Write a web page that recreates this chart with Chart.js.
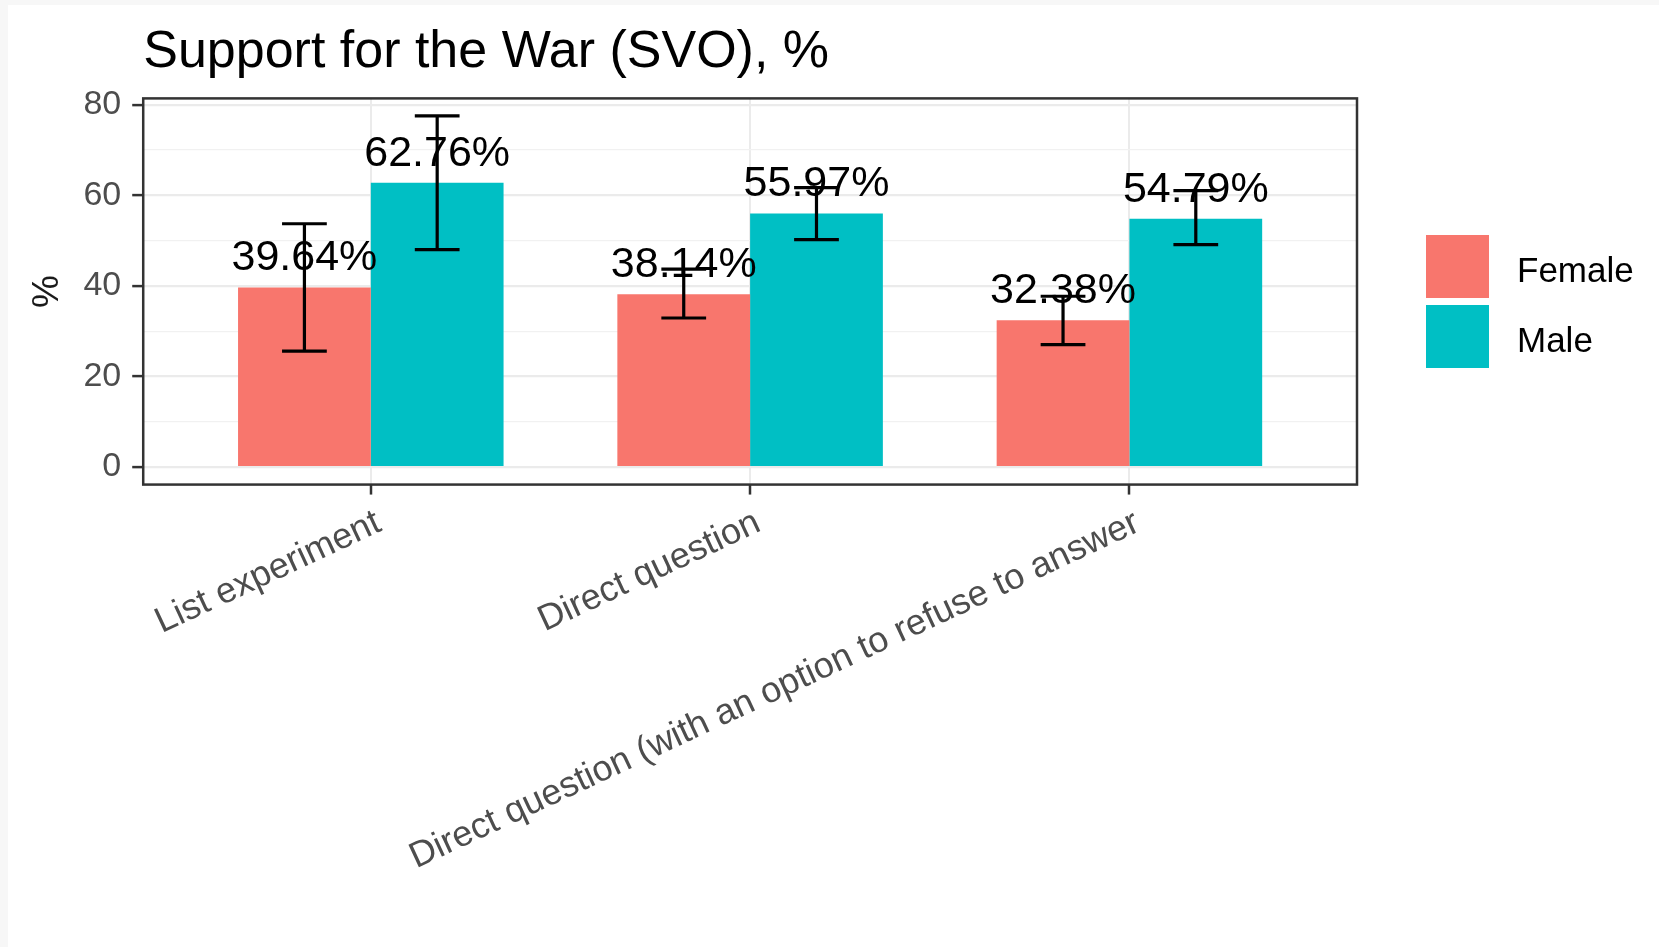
<!DOCTYPE html>
<html lang="en">
<head>
    <meta charset="UTF-8">
    <title>Support for the War (SVO), %</title>
    <script src="https://cdn.jsdelivr.net/npm/chart.js"></script>
    <style>
        body {
            margin: 0;
            background: #f7f7f7;
        }

        .chart-container {
            position: absolute;
            left: 8px;
            top: 5px;
            width: 1651px;
            height: 942px;
            background: #fff;
        }
    </style>
</head>
<body>
<div class="chart-container">
    <canvas id="svoChart"></canvas>
</div>

<script>
    // data
    const categories = ['List experiment', 'Direct question', 'Direct question (with an option to refuse to answer'];
    const seriesNames = ['Female', 'Male'];
    const female = [39.64, 38.14, 32.38];
    const male = [62.76, 55.97, 54.79];
    const femaleLow = [25.6, 32.9, 27.0];
    const femaleHigh = [53.7, 43.7, 37.7];
    const maleLow = [48.0, 50.2, 49.1];
    const maleHigh = [77.5, 61.7, 61.0];
    const yTicks = [0, 20, 40, 60, 80];
    const yMinorTicks = [10, 30, 50, 70];

    const colors = ['#F8766D', '#00BFC4'];
    const errLow = [femaleLow, maleLow];
    const errHigh = [femaleHigh, maleHigh];

    // ggplot-like 5% expansion of the y range
    const yTop = Math.max(...femaleHigh, ...maleHigh);
    const yMin = -0.05 * yTop;
    const yMax = yTop * 1.05;

    Chart.defaults.font.family = "'Liberation Sans', Arial, sans-serif";

    const extras = {
        id: 'extras',
        afterDatasetsDraw(chart) {
            const ctx = chart.ctx;
            const xs = chart.scales.x;
            const capHalf = xs.getPixelForValue(0.059) - xs.getPixelForValue(0);
            ctx.save();
            chart.data.datasets.forEach((ds, d) => {
                const meta = chart.getDatasetMeta(d);
                meta.data.forEach((bar, i) => {
                    // value label
                    ctx.fillStyle = '#000';
                    ctx.font = "43px 'Liberation Sans', Arial, sans-serif";
                    ctx.textAlign = 'center';
                    ctx.textBaseline = 'alphabetic';
                    ctx.fillText(ds.data[i].y.toFixed(2) + '%', bar.x, bar.y - 17);
                    // error bar
                    const lo = chart.scales.y.getPixelForValue(errLow[d][i]);
                    const hi = chart.scales.y.getPixelForValue(errHigh[d][i]);
                    ctx.strokeStyle = '#000';
                    ctx.lineWidth = 3.2;
                    ctx.beginPath();
                    ctx.moveTo(bar.x, lo);
                    ctx.lineTo(bar.x, hi);
                    ctx.moveTo(bar.x - capHalf, lo);
                    ctx.lineTo(bar.x + capHalf, lo);
                    ctx.moveTo(bar.x - capHalf, hi);
                    ctx.lineTo(bar.x + capHalf, hi);
                    ctx.stroke();
                });
            });
            ctx.restore();
        },
        afterDraw(chart) {
            const ctx = chart.ctx;
            const a = chart.chartArea;
            ctx.save();
            // panel border
            ctx.strokeStyle = '#333';
            ctx.lineWidth = 2.5;
            ctx.strokeRect(a.left, a.top, a.right - a.left, a.bottom - a.top);
            // legend
            const box = 63;
            let top = 230;
            chart.data.datasets.forEach(ds => {
                ctx.fillStyle = ds.backgroundColor;
                ctx.fillRect(a.right + 69, top, box, box);
                ctx.fillStyle = '#000';
                ctx.font = "35px 'Liberation Sans', Arial, sans-serif";
                ctx.textAlign = 'left';
                ctx.textBaseline = 'middle';
                ctx.fillText(ds.label, a.right + 69 + box + 28, top + box / 2 + 6);
                top += box + 7;
            });
            ctx.restore();
        }
    };

    new Chart(document.getElementById('svoChart'), {
        type: 'bar',
        data: {
            datasets: seriesNames.map((name, d) => ({
                label: name,
                backgroundColor: colors[d],
                borderWidth: 0,
                categoryPercentage: 0.7,
                barPercentage: 1.0,
                data: (d === 0 ? female : male).map((v, i) => ({x: i + 1, y: v}))
            }))
        },
        options: {
            responsive: true,
            maintainAspectRatio: false,
            animation: false,
            layout: {
                padding: {left: 0, right: 302, top: 0, bottom: 61}
            },
            plugins: {
                legend: {display: false},
                tooltip: {enabled: false},
                title: {
                    display: true,
                    text: 'Support for the War (SVO), %',
                    align: 'start',
                    fullSize: false,
                    color: '#000',
                    font: {size: 52, weight: 'normal'},
                    padding: {top: 16, bottom: 15}
                }
            },
            scales: {
                x: {
                    type: 'linear',
                    min: 0.4,
                    max: 3.6,
                    offset: false,
                    afterBuildTicks: scale => {
                        scale.ticks = categories.map((c, i) => ({value: i + 1}));
                    },
                    ticks: {
                        callback: value => categories[value - 1],
                        minRotation: 25,
                        maxRotation: 25,
                        autoSkip: false,
                        color: '#4D4D4D',
                        font: {size: 36},
                        padding: 7,
                        labelOffset: 8
                    },
                    grid: {
                        offset: false,
                        color: '#EBEBEB',
                        lineWidth: 2,
                        tickLength: 10,
                        tickColor: '#333',
                        tickWidth: 2.5
                    },
                    border: {display: false}
                },
                y: {
                    min: yMin,
                    max: yMax,
                    afterBuildTicks: scale => {
                        scale.ticks = yTicks.concat(yMinorTicks).sort((a, b) => a - b).map(v => ({value: v}));
                    },
                    ticks: {
                        callback: value => yTicks.includes(value) ? String(value) : '',
                        color: '#4D4D4D',
                        font: {size: 34},
                        padding: 11
                    },
                    grid: {
                        color: c => yTicks.includes(c.tick.value) ? '#EBEBEB' : '#F1F1F1',
                        lineWidth: c => yTicks.includes(c.tick.value) ? 2.2 : 1.2,
                        tickLength: 11,
                        tickColor: c => yTicks.includes(c.tick.value) ? '#333' : 'rgba(0,0,0,0)',
                        tickWidth: 2.5
                    },
                    border: {display: false},
                    title: {
                        display: true,
                        text: '%',
                        color: '#1A1A1A',
                        font: {size: 37},
                        padding: {top: 18, bottom: 2}
                    }
                }
            }
        },
        plugins: [extras]
    });
</script>
</body>
</html>
